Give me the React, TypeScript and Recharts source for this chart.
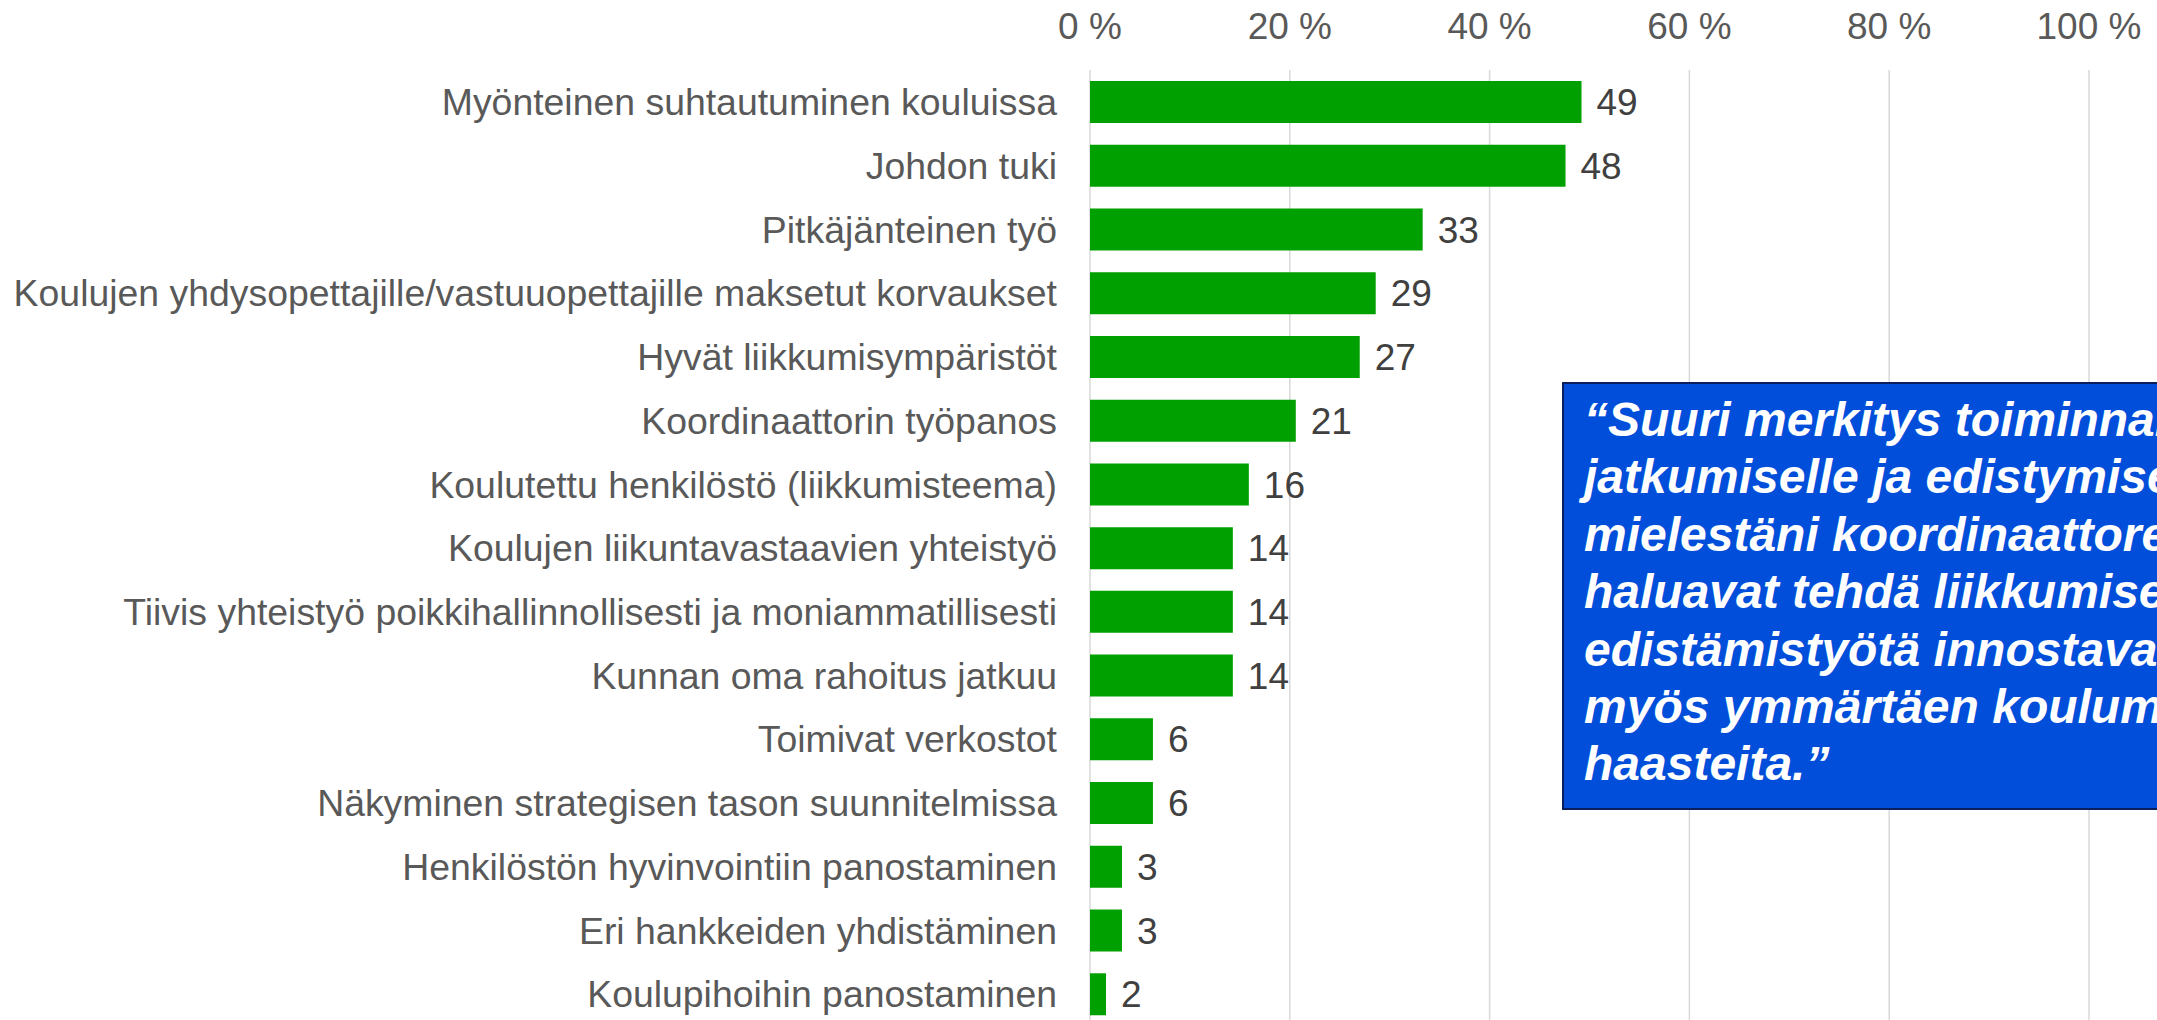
import React from "react";
import { Bar, BarChart, CartesianGrid, LabelList, XAxis, YAxis } from "recharts";

const categories = [
  "Myönteinen suhtautuminen kouluissa",
  "Johdon tuki",
  "Pitkäjänteinen työ",
  "Koulujen yhdysopettajille/vastuuopettajille maksetut korvaukset",
  "Hyvät liikkumisympäristöt",
  "Koordinaattorin työpanos",
  "Koulutettu henkilöstö (liikkumisteema)",
  "Koulujen liikuntavastaavien yhteistyö",
  "Tiivis yhteistyö poikkihallinnollisesti ja moniammatillisesti",
  "Kunnan oma rahoitus jatkuu",
  "Toimivat verkostot",
  "Näkyminen strategisen tason suunnitelmissa",
  "Henkilöstön hyvinvointiin panostaminen",
  "Eri hankkeiden yhdistäminen",
  "Koulupihoihin panostaminen",
];

// percentages; labels are shown rounded
const values = [49.2, 47.6, 33.3, 28.6, 27.0, 20.6, 15.9, 14.3, 14.3, 14.3, 6.3, 6.3, 3.2, 3.2, 1.6];

const xTicks = [0, 20, 40, 60, 80, 100];

const quoteLines = [
  "“Suuri merkitys toiminnan",
  "jatkumiselle ja edistymiselle on",
  "mielestäni koordinaattoreilla, jotka",
  "haluavat tehdä liikkumisen",
  "edistämistyötä innostavasti, mutta",
  "myös ymmärtäen koulumaailman",
  "haasteita.”",
];

const data = categories.map((name, i) => ({ name, value: values[i] }));

const FONT = '"Liberation Sans", Arial, sans-serif';

export default function App() {
  return (
    <div
      style={{
        position: "absolute",
        left: 0,
        top: 0,
        width: 2157,
        height: 1020,
        overflow: "hidden",
        background: "#ffffff",
        fontFamily: FONT,
      }}
    >
      <BarChart
        width={2157}
        height={1026}
        data={data}
        layout="vertical"
        margin={{ top: 0, right: 68, bottom: 0, left: 0 }}
      >
        <CartesianGrid horizontal={false} stroke="#d9d9d9" strokeWidth={1.5} />
        <XAxis
          type="number"
          orientation="top"
          domain={[0, 100]}
          ticks={xTicks}
          tickFormatter={(v) => `${v} %`}
          height={70}
          axisLine={false}
          tickLine={false}
          tickSize={0}
          tickMargin={31}
          tick={{ fontSize: 37, fill: "#595959", fontFamily: FONT }}
        />
        <YAxis
          type="category"
          dataKey="name"
          width={1090}
          axisLine={false}
          tickLine={false}
          tickSize={0}
          tickMargin={33}
          interval={0}
          tick={{ fontSize: 37.4, fill: "#595959", fontFamily: FONT }}
        />
        <Bar dataKey="value" fill="#00a000" barSize={42} isAnimationActive={false}>
          <LabelList
            dataKey="value"
            position="right"
            offset={15}
            fill="#404040"
            fontSize={37}
            fontFamily={FONT}
            formatter={(v: number) => Math.round(v)}
          />
        </Bar>
      </BarChart>
      <div
        style={{
          position: "absolute",
          left: 1562,
          top: 382,
          width: 800,
          height: 428,
          boxSizing: "border-box",
          background: "#004ed9",
          border: "2.5px solid #0a1f5c",
          padding: "7px 0 0 20px",
          color: "#ffffff",
          fontFamily: FONT,
          fontWeight: "bold",
          fontStyle: "italic",
          fontSize: 48,
          lineHeight: "57.4px",
          whiteSpace: "nowrap",
        }}
      >
        {quoteLines.map((line, i) => (
          <div key={i}>{line}</div>
        ))}
      </div>
    </div>
  );
}
